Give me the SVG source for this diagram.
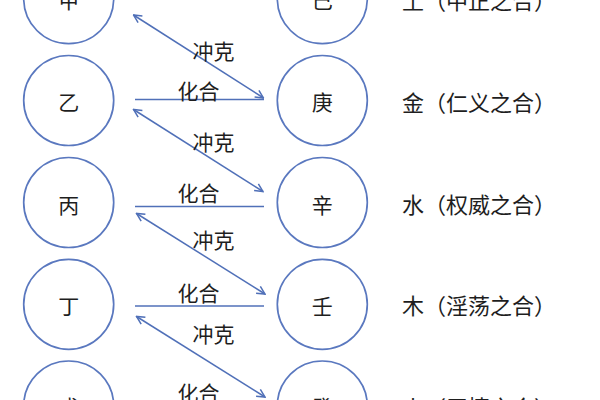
<svg xmlns="http://www.w3.org/2000/svg" width="600" height="400" viewBox="0 0 600 400">
<defs>
<marker id="ah" viewBox="0 0 10 10" refX="9" refY="5" markerWidth="10" markerHeight="10" markerUnits="userSpaceOnUse" orient="auto-start-reverse">
<path d="M1,1 L9,5 L1,9" fill="none" stroke="#5070b8" stroke-width="1.5"/>
</marker>
<style>
.c{fill:#fff;stroke:#5a78bf;stroke-width:1.7}
.t{font-family:"Noto Sans CJK SC","Noto Sans CJK JP",sans-serif;fill:#1e1e1e;dominant-baseline:central}
.n{font-size:21px;text-anchor:middle}
.r{font-size:22px}
.l{font-size:21px;text-anchor:middle}
.h{stroke:#5070b8;stroke-width:1.7;fill:none}
.a{stroke:#5070b8;stroke-width:1.5;fill:none;marker-start:url(#ah);marker-end:url(#ah)}
</style>
</defs>
<rect width="600" height="400" fill="#fff"/>
<g id="connectors">
<line class="h" x1="135" y1="99.5" x2="264" y2="99.5"/>
<line class="h" x1="135" y1="206.5" x2="264" y2="206.5"/>
<line class="h" x1="135" y1="306" x2="264" y2="306"/>
<line class="a" x1="133.5" y1="15" x2="263.5" y2="98"/>
<line class="a" x1="133.5" y1="109.5" x2="263" y2="191.5"/>
<line class="a" x1="136.5" y1="213.5" x2="265" y2="294"/>
<line class="a" x1="136.5" y1="316.5" x2="265" y2="397"/>
<text class="t l" x="198.5" y="90">化合</text>
<text class="t l" x="198.5" y="191.5">化合</text>
<text class="t l" x="198.5" y="291.5">化合</text>
<text class="t l" x="198.5" y="392">化合</text>
<text class="t l" x="213.5" y="49.5">冲克</text>
<text class="t l" x="213.5" y="141">冲克</text>
<text class="t l" x="213.5" y="239">冲克</text>
<text class="t l" x="213.5" y="333">冲克</text>
</g>
<g id="jia"><circle class="c" cx="68.7" cy="-1.3" r="45"/><text class="t n" x="68.7" y="-1.3">甲</text></g>
<g id="yi"><circle class="c" cx="68.7" cy="100.5" r="45"/><text class="t n" x="68.7" y="101">乙</text></g>
<g id="bing"><circle class="c" cx="68.7" cy="202.5" r="45"/><text class="t n" x="68.7" y="204">丙</text></g>
<g id="ding"><circle class="c" cx="68.7" cy="304.3" r="45"/><text class="t n" x="68.7" y="304.5">丁</text></g>
<g id="wu"><circle class="c" cx="68.7" cy="406" r="45"/><text class="t n" x="68.7" y="406">戊</text></g>
<g id="ji"><circle class="c" cx="322.3" cy="-1.3" r="45"/><text class="t n" x="322.3" y="-1.3">己</text></g>
<g id="geng"><circle class="c" cx="322.3" cy="100.5" r="45"/><text class="t n" x="322.3" y="101">庚</text></g>
<g id="xin"><circle class="c" cx="322.3" cy="202.5" r="45"/><text class="t n" x="322.3" y="204">辛</text></g>
<g id="ren"><circle class="c" cx="322.3" cy="304.3" r="45"/><text class="t n" x="322.3" y="304.5">壬</text></g>
<g id="gui"><circle class="c" cx="322.3" cy="406" r="45"/><text class="t n" x="322.3" y="406">癸</text></g>
<g id="res-tu"><text class="t r" x="402" y="-1">土（中正之合）</text></g>
<g id="res-jin"><text class="t r" x="402" y="101">金（仁义之合）</text></g>
<g id="res-shui"><text class="t r" x="402" y="203">水（权威之合）</text></g>
<g id="res-mu"><text class="t r" x="402" y="304">木（淫荡之合）</text></g>
<g id="res-huo"><text class="t r" x="402" y="406">火（无情之合）</text></g>
</svg>
